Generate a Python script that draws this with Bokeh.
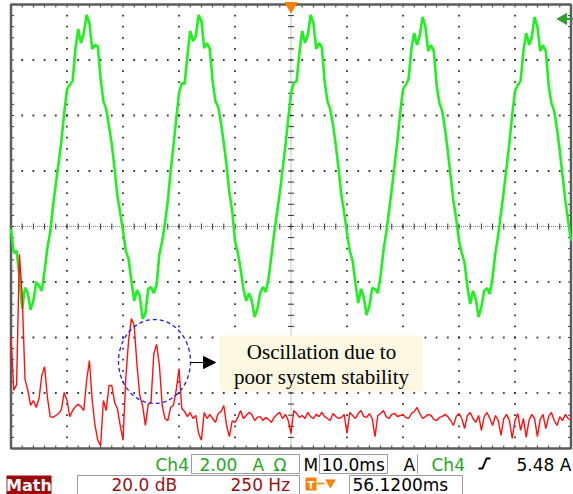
from bokeh.plotting import figure
from bokeh.models import Range1d, Label, Arrow, NormalHead
from bokeh.embed import file_html
from bokeh.resources import INLINE

# ---------------- data ----------------
# Ch4: phase current [A], sampled every 0.5 ms over the 100 ms record
SAMPLE_MS = 0.5
I_CH4 = [
    -2.09, -2.95, -2.88, -3.78, -4.97, -4.20, -4.40, -5.00, -4.68, -4.00,
    -4.14, -4.32, -3.60, -2.77, -2.20, -1.26, -0.47, 0.29, 1.08, 2.09,
    2.95, 3.10, 3.24, 4.40, 5.12, 4.61, 4.97, 5.62, 5.33, 4.40,
    4.54, 4.50, 3.32, 2.52, 2.23, 1.62, 0.97, 0.07, -0.90, -1.51,
    -2.16, -2.88, -3.17, -3.96, -4.68, -4.29, -4.50, -5.33, -5.12, -4.25,
    -4.18, -4.40, -4.10, -2.99, -2.52, -1.87, -1.08, 0.00, 0.90, 1.87,
    2.81, 3.17, 3.14, 4.14, 5.05, 4.68, 4.86, 5.62, 5.41, 4.43,
    4.61, 4.40, 3.24, 2.52, 2.31, 1.73, 1.01, 0.18, -0.79, -1.44,
    -2.52, -2.95, -3.53, -4.25, -4.68, -4.40, -4.68, -5.26, -4.97, -4.40,
    -4.18, -4.36, -3.86, -3.06, -2.23, -1.51, -0.79, 0.07, 0.90, 1.87,
    2.81, 3.17, 3.24, 4.25, 5.05, 4.61, 4.90, 5.62, 5.33, 4.40,
    4.61, 4.47, 3.24, 2.52, 2.23, 1.66, 0.94, 0.07, -0.86, -1.51,
    -2.23, -2.88, -3.24, -4.04, -4.76, -4.25, -4.54, -5.19, -4.86, -4.22,
    -4.25, -4.40, -3.78, -2.88, -2.23, -1.44, -0.65, 0.22, 1.08, 2.09,
    2.95, 3.10, 3.32, 4.40, 4.97, 4.54, 4.90, 5.55, 5.19, 4.32,
    4.54, 4.32, 3.10, 2.45, 2.16, 1.51, 0.72, -0.18, -1.08, -1.73,
    -2.52, -2.95, -3.32, -4.18, -4.79, -4.32, -4.61, -5.26, -4.90, -4.32,
    -4.22, -4.43, -3.82, -2.95, -2.31, -1.51, -0.72, 0.14, 1.01, 2.02,
    2.88, 3.10, 3.24, 4.32, 4.97, 4.54, 4.83, 5.55, 5.19, 4.32,
    4.54, 4.32, 3.10, 2.45, 2.16, 1.51, 0.72, -0.18, -1.08, -1.80,
    -2.52,
]
T_MS = [SAMPLE_MS * k for k in range(len(I_CH4))]

# Math: FFT magnitude of Ch4 [dB], one value per 12.5 Hz bin
FFT_BIN_HZ = 12.5
MATH_DB = [
    -40, -59, -57, -10, -25, -55, -59, -64.5, -62.7, -65.2,
    -62, -53.7, -50.5, -61.6, -68.5, -68.8, -68.1, -67.4, -66, -59.8,
    -62.7, -68.5, -66.3, -64.9, -64.1, -64.9, -66.3, -55.5, -48.3, -62.7,
    -71.7, -77, -79, -62.7, -66.3, -57.3, -57.3, -63.4, -65.6, -71.7,
    -77, -54.8, -41, -33.2, -35.7, -50, -61, -64.5, -71.7, -64.1,
    -63.4, -45.8, -42.5, -50, -64.5, -69.2, -70, -65.2, -64.5, -59,
    -51.2, -65.6, -66.7, -68.5, -67, -69.2, -68.1, -74.6, -77, -67,
    -69.2, -67.7, -69.2, -70.6, -67.4, -66.7, -64.5, -71.7, -75.7, -70,
    -70.6, -68.8, -66.3, -69.2, -68.1, -67, -67.7, -69.9, -68.8, -68.5,
    -69.9, -68.8, -69.5, -70.6, -68.8, -67.7, -67, -69.2, -67.7, -69.9,
    -74.6, -66.3, -67.4, -68.8, -68.1, -69.2, -67, -68.5, -69.2, -67.7,
    -68.5, -67, -68.5, -69.2, -69.9, -67.4, -68.5, -69.2, -68.8, -67.7,
    -74.6, -67, -68.1, -69.2, -67.4, -66.3, -68.5, -68.8, -67.4, -69.2,
    -75.7, -68.1, -67.4, -66.3, -68.5, -69.2, -67.7, -67.4, -68.5, -68.1,
    -67.7, -68.8, -69.2, -67.4, -66.7, -65.2, -67.4, -69.2, -68.5, -67.7,
    -68.1, -69.5, -69.9, -68.8, -68.5, -67.7, -68.5, -69.9, -71.7, -68.5,
    -67.4, -69.2, -72.8, -68.1, -67, -69.2, -70.6, -68.1, -73.5, -68.5,
    -67, -69.2, -71.7, -68.1, -69.9, -75.3, -69.2, -67.7, -69.9, -76.4,
    -69.9, -67.4, -73.5, -69.2, -76, -69.9, -67.7, -69.2, -75.7, -69.5,
    -67.7, -72.8, -68.5, -67, -69.9, -71.7, -68.5, -69.9, -67.7, -69.2,
    -69.9,
]
F_HZ = [FFT_BIN_HZ * k for k in range(len(MATH_DB))]

# scope settings (shown in the status bar)
CH4_A_PER_DIV = 2.0
CH4_POS_DIV = 1.0
TIME_MS_PER_DIV = 10.0
MATH_DB_PER_DIV = 20.0
MATH_HZ_PER_DIV = 250.0
TRIG_LEVEL_A = 5.48
STATUS_ROW1 = ["Ch4", "2.00", "A", "\u03a9", "M", "10.0ms", "A", "Ch4", "5.48 A"]
STATUS_ROW2 = ["20.0 dB", "250 Hz", "56.1200ms"]
NOTE = ["Oscillation due to", "poor system stability"]

# ---------------- layout geometry (screen) ----------------
W, H = 573, 494
GX0, DIVX = 10.5, 56.0     # graticule left edge, px per horizontal division
GYC, DIVY = 226.0, 55.5    # graticule centre line, px per vertical division


def dx(px):
    return (px - GX0) / DIVX


def dy(py):
    return (GYC - py) / DIVY


def base(py, size):
    # Bokeh places the 'alphabetic' line of a Label roughly one descent lower
    return dy(py - 0.28 * size)


x0, x1 = dx(0), dx(W)
ybot, ytop = dy(H), dy(0)

p = figure(width=W, height=H, x_range=Range1d(x0, x1), y_range=Range1d(ybot, ytop),
           output_backend="svg", toolbar_location=None, min_border=0,
           x_axis_location=None, y_axis_location=None)
p.grid.visible = False
p.outline_line_color = None
p.background_fill_color = "white"
p.border_fill_color = "white"

p.extra_x_ranges = {
    "ms": Range1d(x0 * TIME_MS_PER_DIV, x1 * TIME_MS_PER_DIV),
    "hz": Range1d(x0 * MATH_HZ_PER_DIV, x1 * MATH_HZ_PER_DIV),
}
p.extra_y_ranges = {
    "amp": Range1d((ybot - CH4_POS_DIV) * CH4_A_PER_DIV, (ytop - CH4_POS_DIV) * CH4_A_PER_DIV),
    "db": Range1d(ybot * MATH_DB_PER_DIV, ytop * MATH_DB_PER_DIV),
}

# ---------------- graticule ----------------
GRID_DOT = "#3a3a3a"
minor_x = [k * 0.2 for k in range(51)]
minor_y = [-4 + k * 0.2 for k in range(41)]
dxs, dys = [], []
for i in range(1, 10):
    if i == 5:
        continue
    for yy in minor_y:
        dxs.append(i); dys.append(yy)
for j in range(-3, 4):
    if j == 0:
        continue
    for xx in minor_x:
        dxs.append(xx); dys.append(j)
p.scatter(dxs, dys, marker="square", size=1.8, fill_color=GRID_DOT, line_color=None)

# centre lines with tick marks
p.segment(x0=[5], y0=[-4], x1=[5], y1=[4], line_color="#8a8a8a", line_width=1, line_dash="1 1")
p.segment(x0=[0], y0=[0], x1=[10], y1=[0], line_color="#8a8a8a", line_width=1, line_dash="1 1")
tx = 3.0 / DIVX
ty = 3.0 / DIVY
p.segment(x0=[5 - tx] * len(minor_y), y0=minor_y, x1=[5 + tx] * len(minor_y), y1=minor_y,
          line_color="#333333", line_width=1)
p.segment(x0=minor_x, y0=[-ty] * len(minor_x), x1=minor_x, y1=[ty] * len(minor_x),
          line_color="#333333", line_width=1)

# border ticks
p.segment(x0=minor_x, y0=[4] * len(minor_x), x1=minor_x, y1=[4 - ty] * len(minor_x), line_color="#333333")
p.segment(x0=minor_x, y0=[-4] * len(minor_x), x1=minor_x, y1=[-4 + ty] * len(minor_x), line_color="#333333")
p.segment(x0=[0] * len(minor_y), y0=minor_y, x1=[tx] * len(minor_y), y1=minor_y, line_color="#333333")
p.segment(x0=[10] * len(minor_y), y0=minor_y, x1=[10 - tx] * len(minor_y), y1=minor_y, line_color="#333333")
# border frame
p.quad(left=[0], right=[10], top=[4], bottom=[-4], fill_alpha=0, line_color="#5c5c5c", line_width=2.5)

# ---------------- traces ----------------
p.line(T_MS, I_CH4, x_range_name="ms", y_range_name="amp", line_color="#20F020", line_width=2.6)
p.line(F_HZ, MATH_DB, x_range_name="hz", y_range_name="db", line_color="#FF1010", line_width=1.4)

# ---------------- markers on the graticule edge ----------------
p.scatter([5], [dy(5.5)], marker="inverted_triangle", size=12, fill_color="#FF8000", line_color="#FF8000")
trig_y = (TRIG_LEVEL_A / CH4_A_PER_DIV) + CH4_POS_DIV
p.segment(x0=[dx(565)], y0=[trig_y], x1=[dx(573)], y1=[trig_y], line_color="#2E9E2E", line_width=2)
p.scatter([dx(563)], [trig_y], marker="triangle", angle=1.5708, size=11,
          fill_color="#2E9E2E", line_color="#2E9E2E")

# ---------------- annotation ----------------
p.ellipse(x=[dx(154)], y=[dy(361)], width=72, height=84, width_units="screen", height_units="screen",
          fill_alpha=0, line_color="#1E1EFF", line_width=1.3, line_dash="4 3")
p.add_layout(Arrow(end=NormalHead(size=12, fill_color="black", line_color="black"),
                   x_start=dx(190), y_start=dy(362), x_end=dx(215), y_end=dy(362),
                   line_color="black", line_width=1.2))
p.quad(left=[dx(219)], right=[dx(422)], top=[dy(335)], bottom=[dy(391)],
       fill_color="#FCF8E2", line_color=None)
for txt, by in zip(NOTE, [357, 382]):
    p.add_layout(Label(x=dx(321), y=base(by, 21), text=txt, text_align="center", text_baseline="alphabetic",
                       text_font="Liberation Serif", text_font_size="21px", text_color="black"))

# ---------------- status bar ----------------
BOX = "#9a9a9a"
for l, r, t, b in [(191, 299, 454, 473), (319, 387, 454, 473), (77, 299, 475, 494), (349, 462, 475, 494)]:
    p.quad(left=[dx(l)], right=[dx(r)], top=[dy(t)], bottom=[dy(b)], fill_alpha=0, line_color=BOX, line_width=1)
p.segment(x0=[dx(417)], y0=[dy(454)], x1=[dx(417)], y1=[dy(473)], line_color=BOX)
p.quad(left=[dx(6)], right=[dx(51)], top=[dy(475)], bottom=[dy(494)], fill_color="#9B0A0A", line_color=None)

GREEN_T = "#22A822"
RED_T = "#A01010"
row1 = [(155, GREEN_T), (199, GREEN_T), (252, GREEN_T), (273, GREEN_T), (303, "black"), (321, "black"),
        (403, "black"), (431, GREEN_T), (516, "black")]
for txt, (px, col) in zip(STATUS_ROW1, row1):
    p.add_layout(Label(x=dx(px), y=base(469, 17), text=txt, text_font="DejaVu Sans", text_font_size="17px",
                       text_color=col, text_baseline="alphabetic"))
row2 = [(111, RED_T), (230, RED_T), (352, "black")]
for txt, (px, col) in zip(STATUS_ROW2, row2):
    p.add_layout(Label(x=dx(px), y=base(489, 17), text=txt, text_font="DejaVu Sans", text_font_size="17px",
                       text_color=col, text_baseline="alphabetic"))
p.add_layout(Label(x=dx(28.5), y=base(489, 16), text="Math", text_align="center", text_font="DejaVu Sans",
                   text_font_size="16px", text_font_style="bold", text_color="white", text_baseline="alphabetic"))
# rising-edge slope symbol
p.line([dx(478), dx(482), dx(486), dx(490)], [dy(468), dy(468), dy(458), dy(458)], line_color="black", line_width=2)
# trigger-position icon
p.quad(left=[dx(305)], right=[dx(316)], top=[dy(477)], bottom=[dy(490)], fill_color="#FF8000", line_color=None)
p.add_layout(Label(x=dx(310.5), y=base(488, 11), text="T", text_align="center", text_font="DejaVu Sans",
                   text_font_size="11px", text_font_style="bold", text_color="white", text_baseline="alphabetic"))
p.segment(x0=[dx(316)], y0=[dy(483)], x1=[dx(324)], y1=[dy(483)], line_color="#FF8000", line_width=1.5)
p.scatter([dx(330)], [dy(482)], marker="inverted_triangle", size=9, fill_color="#FF8000", line_color="#FF8000")

open("out.html", "w").write(file_html(p, INLINE))
